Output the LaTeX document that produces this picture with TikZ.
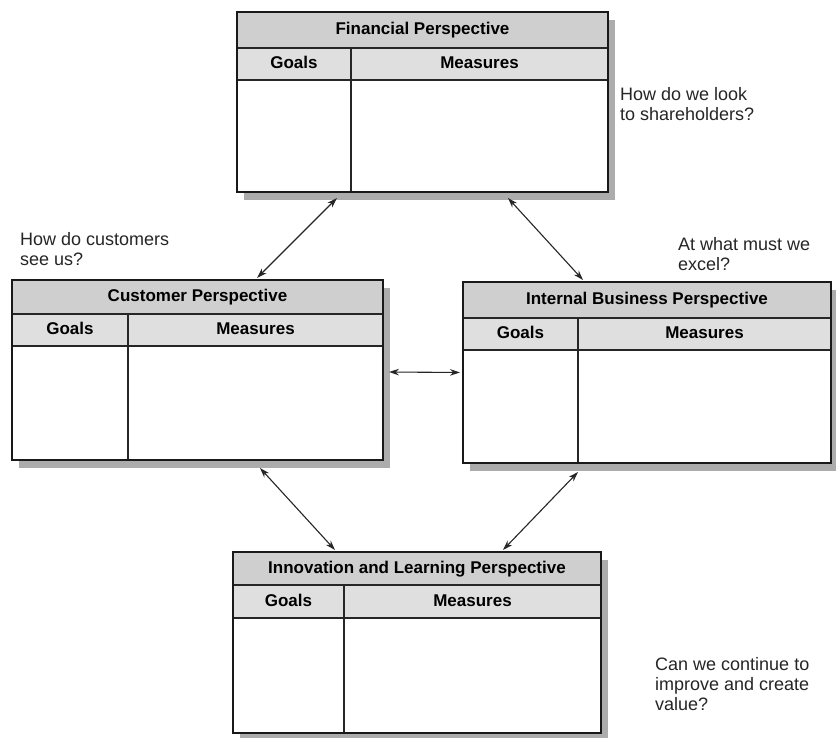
\documentclass[tikz,border=0pt]{standalone}
\usepackage{fontspec}
\setmainfont{Liberation Sans}
\usetikzlibrary{arrows.meta}
\tikzset{
  cellbase/.style={anchor=north west, inner sep=0pt, outer sep=0pt, draw=black!85, line width=1.2pt},
  hdr/.style={cellbase, fill=gray!38, text height=12.5pt, text depth=3.5pt, font=\fontsize{17}{19}\selectfont\bfseries},
  colh/.style={cellbase, fill=gray!25, text height=12.5pt, text depth=3.5pt, font=\fontsize{17}{19}\selectfont\bfseries},
  bodycell/.style={cellbase, fill=white},
  frame/.style={anchor=north west, inner sep=0pt, outer sep=0pt, draw=black!90, line width=1.6pt},
  shadowc/.style={fill=gray!65},
  arr/.style={draw=black!85, line width=1.1pt, {Stealth[length=10pt,width=6.5pt]}-{Stealth[length=10pt,width=6.5pt]}},
  lbl/.style={anchor=north west, inner sep=0pt, align=left, text=black!85, font=\fontsize{18}{20}\selectfont}
}
% #1 name, #2 x0, #3 y0, #4 width, #5 height, #6 title height, #7 column-head height, #8 goals width, #9 title
\newcommand\bscpanel[9]{%
  \fill[shadowc] (#2+7,#3+8) rectangle ++(#4,#5);
  \node[hdr, minimum width=#4pt, minimum height=#6pt] (#1-t) at (#2,#3) {#9};
  \node[colh, minimum width=#8pt, minimum height=#7pt] (#1-g) at (#2,#3+#6) {Goals};
  \node[colh, minimum width=#4pt-#8pt, minimum height=#7pt] (#1-m) at (#2+#8,#3+#6) {Measures};
  \node[bodycell, minimum width=#8pt, minimum height=#5pt-#6pt-#7pt] (#1-gb) at (#2,#3+#6+#7) {};
  \node[bodycell, minimum width=#4pt-#8pt, minimum height=#5pt-#6pt-#7pt] (#1-mb) at (#2+#8,#3+#6+#7) {};
  \node[frame, minimum width=#4pt, minimum height=#5pt] (#1) at (#2,#3) {};
}
\begin{document}
\begin{tikzpicture}[x=1pt,y=-1pt]
\useasboundingbox[fill=white] (0,0) rectangle (836,738);

\bscpanel{fin}{237}{12}{371}{180}{36}{32}{114}{Financial Perspective}
\bscpanel{cus}{12}{280}{371}{180}{34}{32}{116}{Customer Perspective}
\bscpanel{ibp}{463}{282}{368}{181}{36}{32}{115}{Internal Business Perspective}
\bscpanel{inn}{233}{552}{368}{181}{33}{33}{111}{Innovation and Learning Perspective}

\draw[arr] ([xshift=100pt,yshift=-6pt]fin.south west) -- ([xshift=245pt,yshift=2pt]cus.north west);
\draw[arr] ([xshift=271pt,yshift=-6pt]fin.south west) -- ([xshift=120pt,yshift=2pt]ibp.north west);
\draw[arr] ([xshift=6pt,yshift=-2pt]cus.east) -- ([xshift=-3pt]ibp.west);
\draw[arr] ([xshift=248pt,yshift=-8pt]cus.south west) -- ([xshift=102pt,yshift=2pt]inn.north west);
\draw[arr] ([xshift=115pt,yshift=-9pt]ibp.south west) -- ([xshift=270pt,yshift=2pt]inn.north west);

\node[lbl] (qfin) at (620,87) {How do we look\\to shareholders?};
\node[lbl] (qcus) at (20,232) {How do customers\\see us?};
\node[lbl] (qibp) at (678,237) {At what must we\\excel?};
\node[lbl] (qinn) at (655,657) {Can we continue to\\improve and create\\value?};
\end{tikzpicture}
\end{document}
